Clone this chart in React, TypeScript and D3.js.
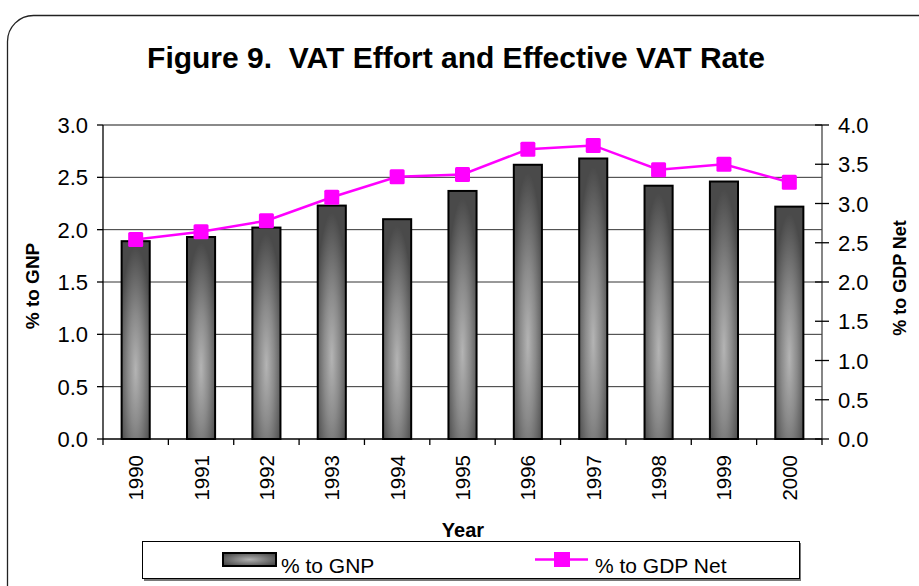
import React from "react";
import * as d3 from "d3";

const years = ["1990","1991","1992","1993","1994","1995","1996","1997","1998","1999","2000"];
const gnpValues = [1.89, 1.93, 2.02, 2.23, 2.10, 2.37, 2.62, 2.68, 2.42, 2.46, 2.22];
const gdpNetValues = [2.54, 2.64, 2.78, 3.08, 3.34, 3.37, 3.69, 3.74, 3.43, 3.50, 3.27];
const leftTicks = [0, 0.5, 1.0, 1.5, 2.0, 2.5, 3.0];
const rightTicks = [0, 0.5, 1.0, 1.5, 2.0, 2.5, 3.0, 3.5, 4.0];
const title = "Figure 9.  VAT Effort and Effective VAT Rate";
const seriesNames = ["% to GNP", "% to GDP Net"];

export default function App() {
  const W = 919, H = 586;
  const left = 103, right = 822, top = 125, bottom = 439;
  const x = d3.scaleBand<string>().domain(years).range([left, right]).paddingInner(0.57).paddingOuter(0.285);
  const xb = d3.scaleBand<string>().domain(years).range([left, right]);
  const yL = d3.scaleLinear().domain([0, 3]).range([bottom, top]);
  const yR = d3.scaleLinear().domain([0, 4]).range([bottom, top]);
  const line = d3.line<number>().x((_, i) => xb(years[i])! + xb.bandwidth() / 2).y(d => yR(d));
  const font = "Arial, 'Liberation Sans', sans-serif";
  const ms = 15;
  return (
    <svg width={W} height={H} style={{ position: "absolute", left: 0, top: 0 }} fontFamily={font}>
      <defs>
        <radialGradient id="barGrad" cx="0.5" cy="0.65" r="0.62" fx="0.5" fy="0.65">
          <stop offset="0%" stopColor="#b4b4b4" />
          <stop offset="45%" stopColor="#8a8a8a" />
          <stop offset="100%" stopColor="#4a4a4a" />
        </radialGradient>
        <radialGradient id="legGrad" cx="0.5" cy="0.5" r="0.6">
          <stop offset="0%" stopColor="#b0b0b0" />
          <stop offset="100%" stopColor="#4a4a4a" />
        </radialGradient>
      </defs>
      <rect x={0} y={0} width={W} height={H} fill="#fff" />
      <rect x={7.5} y={15.5} width={940} height={620} rx={26} ry={26} fill="#fff" stroke="#222" strokeWidth={1.3} />
      <text x={456} y={68} textAnchor="middle" fontSize={30} fontWeight="bold" style={{ whiteSpace: "pre" }}>{title}</text>
      {/* gridlines */}
      {leftTicks.slice(1).map(t => (
        <line key={"g" + t} x1={left} x2={right} y1={yL(t)} y2={yL(t)}
          stroke={t === 3 ? "#8a8a8a" : "#333"} strokeWidth={t === 3 ? 2 : 1} />
      ))}
      {/* bars */}
      {gnpValues.map((v, i) => (
        <rect key={"b" + i} x={x(years[i])!} y={yL(v)} width={x.bandwidth()} height={yL(0) - yL(v)}
          fill="url(#barGrad)" stroke="#000" strokeWidth={2} />
      ))}
      {/* axes */}
      <line x1={left} x2={left} y1={top} y2={bottom} stroke="#000" strokeWidth={1.3} />
      <line x1={right} x2={right} y1={top} y2={bottom} stroke="#444" strokeWidth={1.3} />
      <line x1={left} x2={right} y1={bottom} y2={bottom} stroke="#000" strokeWidth={1.3} />
      {leftTicks.map(t => (
        <g key={"lt" + t}>
          <line x1={left - 6} x2={left} y1={yL(t)} y2={yL(t)} stroke="#000" strokeWidth={1.3} />
          <text x={88} y={yL(t) + 8} textAnchor="end" fontSize={22}>{t.toFixed(1)}</text>
        </g>
      ))}
      {rightTicks.map(t => (
        <g key={"rt" + t}>
          <line x1={right - 7} x2={right + 7} y1={yR(t)} y2={yR(t)} stroke="#000" strokeWidth={1.3} />
          <text x={838} y={yR(t) + 8} textAnchor="start" fontSize={22}>{t.toFixed(1)}</text>
        </g>
      ))}
      {years.map((yr, i) => (
        <line key={"xt" + i} x1={xb(yr)!} x2={xb(yr)!} y1={bottom} y2={bottom + 6} stroke="#000" strokeWidth={1.3} />
      ))}
      <line x1={right} x2={right} y1={bottom} y2={bottom + 6} stroke="#000" strokeWidth={1.3} />
      {years.map(yr => {
        const cx = xb(yr)! + xb.bandwidth() / 2 + 7.5;
        return (
          <text key={"xl" + yr} transform={`translate(${cx},${455}) rotate(-90)`} textAnchor="end" fontSize={20.5}>{yr}</text>
        );
      })}
      {/* line series */}
      <path d={line(gdpNetValues)!} fill="none" stroke="#ff00ff" strokeWidth={2.5} />
      {gdpNetValues.map((v, i) => (
        <rect key={"m" + i} x={xb(years[i])! + xb.bandwidth() / 2 - ms / 2} y={yR(v) - ms / 2} width={ms} height={ms}
          fill="#ff00ff" rx={1.5} />
      ))}
      {/* axis titles */}
      <text transform={`translate(39,286) rotate(-90)`} textAnchor="middle" fontSize={19} fontWeight="bold">{seriesNames[0]}</text>
      <text transform={`translate(906,278) rotate(-90)`} textAnchor="middle" fontSize={18} fontWeight="bold">{seriesNames[1]}</text>
      <text x={463} y={537} textAnchor="middle" fontSize={20} fontWeight="bold">Year</text>
      {/* legend */}
      <rect x={144} y={543} width={657} height={38} fill="#777" />
      <rect x={142.5} y={541.5} width={657} height={37} fill="#fff" stroke="#000" strokeWidth={1} />
      <rect x={223} y={553} width={53} height={13} fill="url(#legGrad)" stroke="#000" strokeWidth={2} />
      <text x={281} y={573} fontSize={21}>{seriesNames[0]}</text>
      <line x1={535} x2={588} y1={559.5} y2={559.5} stroke="#ff00ff" strokeWidth={2.5} />
      <rect x={554} y={552} width={16} height={15} fill="#ff00ff" />
      <text x={595} y={573} fontSize={21}>{seriesNames[1]}</text>
    </svg>
  );
}
